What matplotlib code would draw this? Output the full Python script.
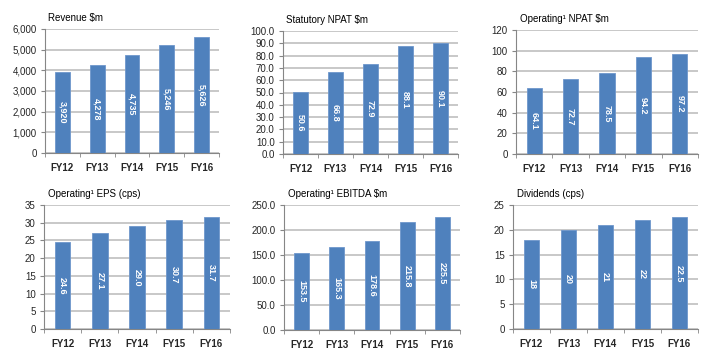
import numpy as np
import matplotlib.pyplot as plt

plt.rcParams['font.family'] = ['Liberation Sans', 'DejaVu Sans']

years = ['FY12', 'FY13', 'FY14', 'FY15', 'FY16']

revenue = [3920, 4278, 4735, 5246, 5626]
stat_npat = [50.6, 66.8, 72.9, 88.1, 90.1]
op_npat = [64.1, 72.7, 78.5, 94.2, 97.2]
op_eps = [24.6, 27.1, 29.0, 30.7, 31.7]
op_ebitda = [153.5, 165.3, 178.6, 215.8, 225.5]
dividends = [18, 20, 21, 22, 22.5]

titles = ['Revenue $m', 'Statutory NPAT $m', 'Operating\u00b9 NPAT $m',
          'Operating\u00b9 EPS (cps)', 'Operating\u00b9 EBITDA $m', 'Dividends (cps)']
label_fmt = ['{:,.0f}', '{:.1f}', '{:.1f}', '{:.1f}', '{:.1f}', '{:g}']
tick_fmt = ['{:,.0f}', '{:.1f}', '{:.0f}', '{:.0f}', '{:.1f}', '{:.0f}']
ymax = [6000, 100, 120, 35, 250, 25]
ystep = [1000, 10, 20, 5, 50, 5]
data = [revenue, stat_npat, op_npat, op_eps, op_ebitda, dividends]

# axes boxes in pixels: left, right, top, bottom
boxes = [(45, 219, 29, 153), (283, 458, 31, 154), (516, 698, 30, 154),
         (44, 230, 205, 329), (284, 460, 205, 330), (513, 698, 205, 329)]

W, H = 712, 360
fig = plt.figure(figsize=(W / 100, H / 100), dpi=100)
bar_col = '#4F81BD'
grid_col = '#BFBFBF'
txt_col = '#262626'

for i in range(6):
    l, r, t, b = boxes[i]
    ax = fig.add_axes([l / W, 1 - b / H, (r - l) / W, (b - t) / H])
    x = np.arange(len(years))
    vals = data[i]
    ax.bar(x, vals, width=0.42, color=bar_col, edgecolor='#6F97CC', linewidth=0.6, zorder=3)
    for xi, v in zip(x, vals):
        ax.text(xi, v / 2, label_fmt[i].format(v), rotation=270, ha='center', va='center',
                color='white', fontsize=6.5, fontweight='bold', zorder=4)
    ax.set_xlim(-0.5, len(years) - 0.5)
    ax.set_ylim(0, ymax[i])
    yt = np.arange(0, ymax[i] + ystep[i] / 2, ystep[i])
    ax.set_yticks(yt)
    ax.set_yticklabels([tick_fmt[i].format(v) for v in yt], fontsize=7, color=txt_col)
    ax.set_xticks(x)
    ax.set_xticklabels(years, fontsize=7, color=txt_col, fontweight='bold')
    ax.set_xticks(np.arange(-0.5, len(years)), minor=True)
    ax.tick_params(axis='x', which='major', length=0, pad=7)
    ax.tick_params(axis='x', which='minor', length=3, color='#868686')
    ax.tick_params(axis='y', length=3, color='#868686', pad=3)
    ax.grid(axis='y', color=grid_col, linewidth=1.2, zorder=0)
    for s in ['top', 'right']:
        ax.spines[s].set_visible(False)
    for s in ['left', 'bottom']:
        ax.spines[s].set_color('#868686')
        ax.spines[s].set_linewidth(0.8)
    ax.text(0.02, 1.05, titles[i], transform=ax.transAxes, fontsize=7, color='black',
            ha='left', va='bottom')

fig.savefig('out.png', dpi=100)
